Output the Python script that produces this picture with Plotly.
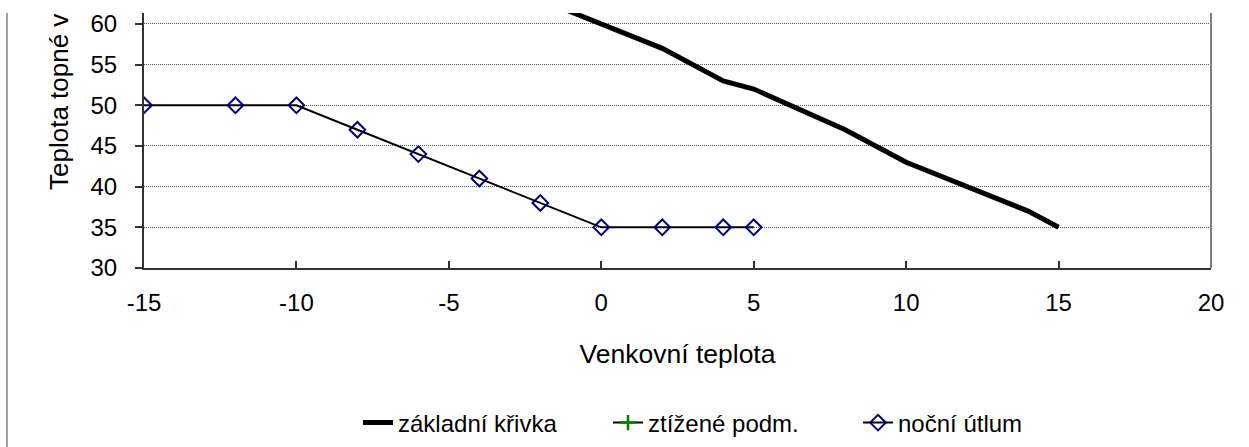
import plotly.graph_objects as go

# Data
x_zakladni = [-15, -12, -10, -8, -6, -4, -2, 0, 2, 4, 5, 8, 10, 14, 15]
y_zakladni = [86, 81, 78, 74, 70, 66, 63, 60, 57, 53, 52, 47, 43, 37, 35]

# "ztížené podm." lies entirely above the visible part of the chart
x_ztizene = [-15, -12, -10]
y_ztizene = [90, 88, 86]

x_nocni = [-15, -12, -10, -8, -6, -4, -2, 0, 2, 4, 5]
y_nocni = [50, 50, 50, 47, 44, 41, 38, 35, 35, 35, 35]

x_ticks = [-15, -10, -5, 0, 5, 10, 15, 20]
x_ticktext = ["-15", "-10", "-5", "0", "5", "10", "15", "20"]
y_ticks = [30, 35, 40, 45, 50, 55, 60]

FONT = "Liberation Sans, Arial, sans-serif"
W, H = 1249, 447
L, R, T, B = 144, 38, 13, 179
PW, PH = W - L - R, H - T - B

fig = go.Figure()
fig.add_trace(go.Scatter(x=x_zakladni, y=y_zakladni, mode="lines", name="základní křivka",
                         line=dict(color="black", width=5)))
fig.add_trace(go.Scatter(x=x_ztizene, y=y_ztizene, mode="lines+markers", name="ztížené podm.",
                         line=dict(color="black", width=2),
                         marker=dict(symbol="cross-thin-open", color="#008000", size=11,
                                     line=dict(color="#008000", width=2.5))))
fig.add_trace(go.Scatter(x=x_nocni, y=y_nocni, mode="lines+markers", name="noční útlum",
                         line=dict(color="black", width=2),
                         marker=dict(symbol="diamond-open", color="#000080", size=12,
                                     line=dict(color="#000080", width=2))))

fig.update_layout(
    width=W, height=H,
    margin=dict(l=L, r=R, t=T, b=B, autoexpand=False),
    paper_bgcolor="white", plot_bgcolor="white",
    font=dict(family=FONT, size=24, color="black"),
    showlegend=True,
    legend=dict(orientation="h", x=(358 - L) / PW, xanchor="left", y=(268 - 423) / PH, yanchor="middle",
                font=dict(family=FONT, size=24, color="black"),
                entrywidth=205, entrywidthmode="pixels",
                bgcolor="rgba(0,0,0,0)"),
    xaxis=dict(range=[-15, 20], tickvals=x_ticks, ticktext=x_ticktext, ticks="inside", ticklen=7,
               tickcolor="#333333", tickwidth=1.5, showgrid=False, zeroline=False,
               showline=True, linecolor="#333333", linewidth=2, automargin=False,
               tickfont=dict(family=FONT, size=24), ticklabelstandoff=12,
               title=dict(text="Venkovní teplota", font=dict(family=FONT, size=26.5), standoff=30)),
    yaxis=dict(range=[30, 61.35], tickvals=y_ticks, ticks="outside", ticklen=7,
               tickcolor="#333333", tickwidth=1.5, showgrid=True, gridcolor="#555555",
               griddash="1px,1px", gridwidth=1, zeroline=False, automargin=False,
               showline=True, linecolor="#333333", linewidth=2,
               tickfont=dict(family=FONT, size=24), ticklabelstandoff=13),
    annotations=[dict(text="Teplota topné v", textangle=-90, xref="paper", yref="paper",
                      x=(59 - L) / PW, y=(268 - 192) / PH, xanchor="center", yanchor="bottom",
                      showarrow=False, font=dict(family=FONT, size=26, color="black"))],
    shapes=[
        dict(type="line", xref="paper", yref="paper", x0=1, x1=1, y0=0, y1=1,
             line=dict(color="#808080", width=2)),
        dict(type="line", xref="paper", yref="paper", x0=(7 - L) / PW, x1=(7 - L) / PW,
             y0=1, y1=(268 - H) / PH, line=dict(color="#808080", width=1.5)),
    ],
)

fig.write_html("out.html", config={"displayModeBar": False},
               post_script="document.body.style.margin='0';")
